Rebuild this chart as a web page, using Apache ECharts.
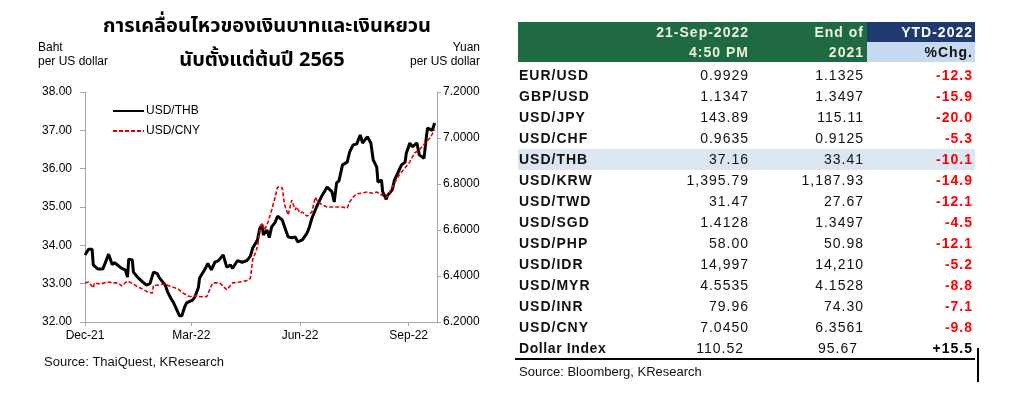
<!DOCTYPE html>
<html><head><meta charset="utf-8">
<script src="https://cdn.jsdelivr.net/npm/echarts@6/dist/echarts.min.js"></script>
<style>
html,body{margin:0;padding:0;background:#fff;width:1029px;height:393px;overflow:hidden;}
#chart{position:absolute;left:0;top:0;width:1029px;height:393px;}
#tbl{position:absolute;left:518px;top:22px;border-collapse:collapse;table-layout:fixed;width:457px;
 font-family:"Liberation Sans",Arial,sans-serif;font-size:14px;letter-spacing:1px;color:#111;}
#tbl td{padding:0;white-space:nowrap;overflow:visible;}
#tbl tr.h td{height:20px;line-height:20px;font-weight:bold;color:#eaf2dc;text-align:right;background:#1f6a43;}
#tbl tr.h td.c3a{background:#1f3a70;color:#fff;}
#tbl tr.h td.c3b{background:#c6d9f0;color:#111;}
#tbl tr.gap td{height:2.5px;line-height:2px;}
#tbl tr.b td{height:21px;line-height:21px;text-align:right;}
#tbl tr.b td.lab{text-align:left;font-weight:bold;padding-left:1px;}
#tbl tr.b td.ytd{font-weight:bold;color:#ff0000;padding-right:2px;}
#tbl tr.b td.v1{padding-right:3px;}
#tbl tr.b td.v2{padding-right:3px;}
#tbl tr.hl td{background:#dce6f1;}
#tbl tr.last td.v1{padding-right:8px;}
#tbl tr.last td.v2{padding-right:9px;}
#tbl tr.last td.ytd{color:#000;}
#tbl tr.last td.lab{letter-spacing:0.6px;}
#tbl tr.h td.p1{padding-right:3px;}
#tbl tr.h td.p2{padding-right:3px;}
#tbl tr.h td.p3{padding-right:2px;}
.ln{position:absolute;background:#000;}
#src2{position:absolute;left:519px;top:364px;font-family:"Liberation Sans",Arial,sans-serif;font-size:13px;color:#111;}
</style></head>
<body>
<div id="chart"></div>
<table id="tbl"><colgroup><col style="width:122px"><col style="width:112px"><col style="width:115px"><col style="width:108px"></colgroup><tbody id="tb"></tbody></table>
<div class="ln" style="left:515px;top:358px;width:460px;height:2px;"></div>
<div class="ln" style="left:977px;top:348px;width:2px;height:34px;"></div>
<div id="src2"></div>
<script>
// ---- chart data (days counted from 1 Dec 2021) ----
const thbDays = [0,3,6,7,11,15,17,20,23,25,27,31,34,36,37,40,41,45,49,52,55,58,61,63,68,70,73,75,78,80,82,84,86,91,93,96,97,102,104,107,110,113,117,120,123,125,129,133,137,140,142,146,148,150,151,154,156,158,161,163,167,169,172,175,178,180,184,188,190,192,196,200,205,209,211,213,215,218,222,224,227,230,233,235,237,239,242,244,247,248,251,252,255,256,260,262,265,268,271,272,275,277,281,283,287,289,290,294,296];
const thb = [33.75,33.9,33.9,33.49,33.38,33.38,33.53,33.77,33.5,33.55,33.5,33.4,33.36,33.17,33.64,33.62,33.3,33.15,33.04,32.96,33.0,33.3,33.27,33.15,32.96,32.78,32.6,32.5,32.3,32.16,32.16,32.36,32.5,32.57,32.65,32.9,33.15,33.4,33.53,33.36,33.56,33.6,33.75,33.43,33.49,33.4,33.6,33.56,33.6,33.72,33.93,34.14,34.45,34.53,34.27,34.4,34.2,34.48,34.6,34.76,34.66,34.48,34.22,34.2,34.22,34.09,34.14,34.32,34.48,34.7,35.0,35.26,35.52,35.4,35.13,35.63,35.68,36.1,36.17,36.43,36.62,36.64,36.88,36.67,36.75,36.83,36.67,36.23,36.04,35.65,35.7,35.4,35.2,35.3,35.44,35.7,35.9,36.1,36.17,36.4,36.67,36.57,36.67,36.36,36.27,36.83,37.06,37.0,37.19];
const cnyDays = [0,3,7,8,13,19,24,28,31,34,36,41,45,49,53,57,58,62,66,70,74,79,83,87,91,95,97,103,108,114,120,125,131,137,140,142,146,148,150,152,155,158,161,163,167,169,172,175,178,179,182,184,188,192,195,197,201,205,209,213,217,222,224,227,230,234,239,243,247,251,255,258,262,266,271,275,279,283,288,292,296];
const cny = [6.37,6.374,6.348,6.37,6.365,6.374,6.37,6.37,6.357,6.37,6.378,6.365,6.352,6.343,6.33,6.326,6.36,6.36,6.365,6.36,6.352,6.343,6.326,6.313,6.309,6.317,6.31,6.31,6.37,6.37,6.34,6.37,6.374,6.38,6.39,6.47,6.526,6.6,6.63,6.6,6.635,6.687,6.743,6.787,6.783,6.709,6.665,6.73,6.687,6.7,6.674,6.678,6.66,6.678,6.743,6.722,6.709,6.7,6.7,6.7,6.7,6.696,6.722,6.743,6.757,6.76,6.765,6.76,6.765,6.752,6.74,6.765,6.804,6.84,6.87,6.896,6.935,6.948,6.978,7.0,7.035];
const tickDays = [0, 90, 182, 274];
const tickLabels = ['Dec-21', 'Mar-22', 'Jun-22', 'Sep-22'];

// ---- table data ----
const pairs = ['EUR/USD','GBP/USD','USD/JPY','USD/CHF','USD/THB','USD/KRW','USD/TWD','USD/SGD','USD/PHP','USD/IDR','USD/MYR','USD/INR','USD/CNY','Dollar Index'];
const latest = ['0.9929','1.1347','143.89','0.9635','37.16','1,395.79','31.47','1.4128','58.00','14,997','4.5535','79.96','7.0450','110.52'];
const end2021 = ['1.1325','1.3497','115.11','0.9125','33.41','1,187.93','27.67','1.3497','50.98','14,210','4.1528','74.30','6.3561','95.67'];
const ytd = ['-12.3','-15.9','-20.0','-5.3','-10.1','-14.9','-12.1','-4.5','-12.1','-5.2','-8.8','-7.1','-9.8','+15.5'];
const headerTop = ['', '21-Sep-2022', 'End of', 'YTD-2022'];
const headerBottom = ['', '4:50 PM', '2021', '%Chg.'];

const FONT = '"Liberation Sans", Arial, sans-serif';
const THAI = '"Noto Sans Thai", "Noto Sans Thai UI", "Noto Sans", "Liberation Sans", sans-serif';

// build table
const tb = document.getElementById('tb');
let html = '<tr class="h"><td></td><td class="p1">'+headerTop[1]+'</td><td class="p2">'+headerTop[2]+'</td><td class="c3a p3">'+headerTop[3]+'</td></tr>';
html += '<tr class="h"><td></td><td class="p1">'+headerBottom[1]+'</td><td class="p2">'+headerBottom[2]+'</td><td class="c3b p3">'+headerBottom[3]+'</td></tr>';
html += '<tr class="gap"><td></td><td></td><td></td><td></td></tr>';
pairs.forEach((p, i) => {
  let cls = 'b';
  if (p === 'USD/THB') cls += ' hl';
  if (i === pairs.length - 1) cls += ' last';
  html += '<tr class="'+cls+'"><td class="lab">'+p+'</td><td class="v1">'+latest[i]+'</td><td class="v2">'+end2021[i]+'</td><td class="ytd">'+ytd[i]+'</td></tr>';
});
tb.innerHTML = html;
document.getElementById('src2').textContent = 'Source: Bloomberg, KResearch';

const chart = echarts.init(document.getElementById('chart'), null, {renderer: 'canvas'});
const axisGrey = '#a6a6a6';
const option = {
  animation: false,
  textStyle: {fontFamily: FONT},
  grid: {left: 85, right: 592, top: 92, bottom: 71},
  legend: {
    left: 112, top: 105, orient: 'vertical', itemWidth: 31, itemHeight: 14, itemGap: 8, itemStyle: {opacity: 0},
    padding: 0, textStyle: {fontSize: 12, color: '#000', fontFamily: FONT, padding: [0, 0, 0, -3]},
    data: ['USD/THB', 'USD/CNY']
  },
  xAxis: {
    type: 'value', min: 0, max: 298,
    axisLine: {onZero: false, lineStyle: {color: axisGrey}},
    axisTick: {customValues: tickDays, length: 4, lineStyle: {color: axisGrey}},
    axisLabel: {customValues: tickDays, formatter: v => { const k = tickDays.indexOf(v); return k >= 0 ? tickLabels[k] : ''; }, color: '#000', fontSize: 12, margin: 8},
    splitLine: {show: false}
  },
  yAxis: [
    {type: 'value', min: 32, max: 38, interval: 1, position: 'left',
     axisLine: {show: true, lineStyle: {color: axisGrey}},
     axisTick: {show: true, length: 5, lineStyle: {color: axisGrey}},
     axisLabel: {formatter: v => v.toFixed(2), color: '#000', fontSize: 12, margin: 13},
     splitLine: {show: false}},
    {type: 'value', min: 6.2, max: 7.2, interval: 0.2, position: 'right',
     axisLine: {show: true, lineStyle: {color: axisGrey}},
     axisTick: {show: true, length: 4, lineStyle: {color: axisGrey}},
     axisLabel: {formatter: v => v.toFixed(4), color: '#000', fontSize: 12, margin: 6},
     splitLine: {show: false}}
  ],
  series: [
    {name: 'USD/THB', type: 'line', yAxisIndex: 0, symbol: 'none', z: 3,
     data: thbDays.map((d, i) => [d, thb[i]]),
     lineStyle: {color: '#000', width: 3}, itemStyle: {color: '#000'}},
    {name: 'USD/CNY', type: 'line', yAxisIndex: 1, symbol: 'none', z: 4,
     data: cnyDays.map((d, i) => [d, cny[i]]),
     lineStyle: {color: '#e00000', width: 1.6, type: [4, 2]}, itemStyle: {color: '#e00000'}}
  ],
  graphic: [
    {type: 'text', x: 267, y: 28, style: {text: 'การเคลื่อนไหวของเงินบาทและเงินหยวน', font: 'bold 20px ' + THAI, fill: '#000', align: 'center', verticalAlign: 'middle', textAlign: 'center', textVerticalAlign: 'middle'}},
    {type: 'text', x: 262, y: 62, style: {text: 'นับตั้งแต่ต้นปี 2565', font: 'bold 20px ' + THAI, fill: '#000', align: 'center', verticalAlign: 'middle', textAlign: 'center', textVerticalAlign: 'middle'}},
    {type: 'text', x: 38, y: 48, style: {text: 'Baht', font: '12px ' + FONT, fill: '#000', align: 'left', verticalAlign: 'middle', textAlign: 'left', textVerticalAlign: 'middle'}},
    {type: 'text', x: 38, y: 62, style: {text: 'per US dollar', font: '12px ' + FONT, fill: '#000', align: 'left', verticalAlign: 'middle', textAlign: 'left', textVerticalAlign: 'middle'}},
    {type: 'text', x: 480, y: 48, style: {text: 'Yuan', font: '12px ' + FONT, fill: '#000', align: 'right', verticalAlign: 'middle', textAlign: 'right', textVerticalAlign: 'middle'}},
    {type: 'text', x: 480, y: 62, style: {text: 'per US dollar', font: '12px ' + FONT, fill: '#000', align: 'right', verticalAlign: 'middle', textAlign: 'right', textVerticalAlign: 'middle'}},
    {type: 'text', x: 44, y: 362, style: {text: 'Source: ThaiQuest, KResearch', font: '13px ' + FONT, fill: '#111', align: 'left', verticalAlign: 'middle', textAlign: 'left', textVerticalAlign: 'middle'}}
  ]
};
chart.setOption(option);
</script>
</body></html>
